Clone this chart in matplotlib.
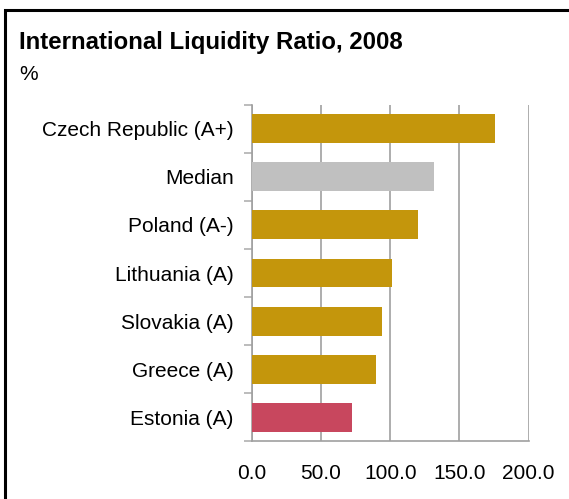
import matplotlib
matplotlib.use("Agg")
import matplotlib.pyplot as plt
from matplotlib.patches import Rectangle

# data, top to bottom
countries = ["Czech Republic (A+)", "Median", "Poland (A-)", "Lithuania (A)",
             "Slovakia (A)", "Greece (A)", "Estonia (A)"]
ratios = [175.7, 131.6, 120.1, 101.3, 94.1, 89.8, 72.4]
colors = ["#C4960C", "#C0C0C0", "#C4960C", "#C4960C", "#C4960C", "#C4960C", "#C8475E"]
xticks = [0, 50, 100, 150, 200]

plt.rcParams["font.family"] = ["Liberation Sans", "DejaVu Sans"]

fig = plt.figure(figsize=(5.69, 4.99), dpi=100)
ax = fig.add_axes([0.4424, 0.1156, 0.4868, 0.6746])

ypos = list(range(len(countries)))[::-1]
ax.barh(ypos, ratios, height=0.6, color=colors, zorder=3)

ax.set_xlim(0, 200)
ax.set_ylim(-0.5, len(countries) - 0.5)
ax.set_xticks(xticks)
ax.set_xticklabels([f"{v:.1f}" for v in xticks], fontsize=15)
ax.tick_params(axis="x", length=0, pad=16)
ax.xaxis.grid(True, color="#A0A0A0", linewidth=1.2, zorder=0)

# category labels sit at bar centres, tick marks at the boundaries
ax.set_yticks(ypos)
ax.set_yticklabels(countries, fontsize=15)
ax.tick_params(axis="y", length=0, pad=13)
ax.set_yticks([y - 0.5 for y in range(len(countries) + 1)], minor=True)
ax.tick_params(axis="y", which="minor", length=6, width=1.2, color="#B0B0B0")

for side in ["top", "right"]:
    ax.spines[side].set_visible(False)
ax.spines["left"].set_color("#A0A0A0")
ax.spines["bottom"].set_color("#A0A0A0")
ax.spines["left"].set_linewidth(1.2)
ax.spines["bottom"].set_linewidth(1.2)

fig.text(19 / 569, 1 - 42 / 499, "International Liquidity Ratio, 2008",
         fontsize=17.3, fontweight="bold", va="center", ha="left")
fig.text(19 / 569, 1 - 74 / 499, "%", fontsize=15, va="center", ha="left")

# frame around the chart
fig.patches.append(Rectangle((5 / 569, -0.1), 1.1, 1 - 10 / 499 + 0.1,
                             transform=fig.transFigure, fill=False,
                             edgecolor="black", linewidth=2.2))

fig.savefig("out.png", dpi=100)
